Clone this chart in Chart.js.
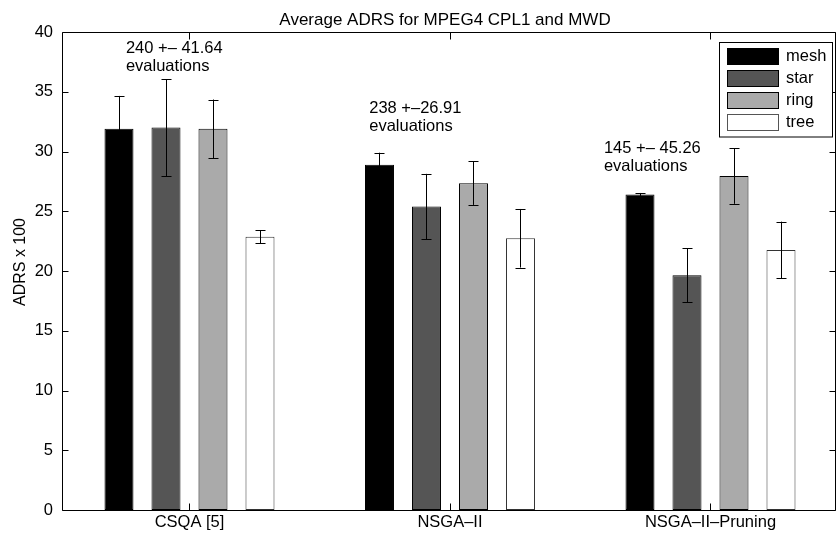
<!DOCTYPE html>
<html><head><meta charset="utf-8">
<script src="https://cdn.jsdelivr.net/npm/chart.js@4"></script>
<style>html,body{margin:0;padding:0;background:#fff}canvas{display:block}</style>
</head><body>
<canvas id="c" width="836" height="534"></canvas>
<script>
const categories = ['CSQA [5]', 'NSGA\u2013II', 'NSGA\u2013II\u2013Pruning'];
const seriesNames = ['mesh', 'star', 'ring', 'tree'];
const meshValues = [31.9, 28.9, 26.4];
const meshErrors = [2.75, 1.0, 0.13];
const starValues = [32.0, 25.4, 19.65];
const starErrors = [4.05, 2.73, 2.26];
const ringValues = [31.9, 27.35, 27.95];
const ringErrors = [2.45, 1.82, 2.33];
const treeValues = [22.87, 22.74, 21.76];
const treeErrors = [0.56, 2.45, 2.37];
const yTicks = [0, 5, 10, 15, 20, 25, 30, 35, 40];
const titleText = 'Average ADRS for MPEG4 CPL1 and MWD';
const yTitle = 'ADRS x 100';
const annotationLines = [['240 +\u2013 41.64', 'evaluations'], ['238 +\u201326.91', 'evaluations'], ['145 +\u2013 45.26', 'evaluations']];
const annotationAnchors = [{x: 0.756, y: 38.22}, {x: 1.69, y: 33.2}, {x: 2.591, y: 29.85}];

const FONT = "'Liberation Sans', Arial, Helvetica, sans-serif";
const fills = ['#000000', '#555555', '#aaaaaa', '#ffffff'];
const allValues = [meshValues, starValues, ringValues, treeValues];
const allErrors = [meshErrors, starErrors, ringErrors, treeErrors];

const datasets = seriesNames.map((name, s) => ({
  label: name,
  data: allValues[s].map((v, i) => ({x: i + 1, y: v})),
  errors: allErrors[s],
  backgroundColor: fills[s],
  borderColor: s === 3 ? '#333333' : '#000000',
  borderWidth: 1,
  borderSkipped: false,
  categoryPercentage: 0.7217,
  barPercentage: 0.617
}));

const decor = {
  id: 'decor',
  afterDatasetsDraw(chart) {
    const ctx = chart.ctx, ys = chart.scales.y;
    ctx.save();
    ctx.strokeStyle = '#000';
    ctx.lineWidth = 1;
    chart.data.datasets.forEach((ds, di) => {
      const meta = chart.getDatasetMeta(di);
      meta.data.forEach((bar, i) => {
        const v = ds.data[i].y, e = ds.errors[i];
        const x = Math.round(bar.x) + 0.5;
        const yt = ys.getPixelForValue(v + e), yb = ys.getPixelForValue(v - e);
        ctx.beginPath();
        ctx.moveTo(x, yt); ctx.lineTo(x, yb);
        ctx.moveTo(x - 5, Math.round(yt) + 0.5); ctx.lineTo(x + 5, Math.round(yt) + 0.5);
        ctx.moveTo(x - 5, Math.round(yb) + 0.5); ctx.lineTo(x + 5, Math.round(yb) + 0.5);
        ctx.stroke();
      });
    });
    ctx.restore();
  },
  afterDraw(chart) {
    const ctx = chart.ctx, a = chart.chartArea, xs = chart.scales.x, ys = chart.scales.y;
    ctx.save();
    ctx.strokeStyle = '#000';
    ctx.lineWidth = 1;
    const L = a.left + 0.5, R = a.right - 0.5, T = a.top + 0.5, B = a.bottom + 0.5;
    ctx.beginPath();
    ctx.moveTo(L, T); ctx.lineTo(R, T); ctx.lineTo(R, B); ctx.lineTo(L, B); ctx.closePath();
    ctx.stroke();
    ctx.beginPath();
    yTicks.forEach(t => {
      const y = Math.round(ys.getPixelForValue(t)) + 0.5;
      ctx.moveTo(L, y); ctx.lineTo(L + 6, y);
      ctx.moveTo(R, y); ctx.lineTo(R - 6, y);
    });
    categories.forEach((c, i) => {
      const x = Math.round(xs.getPixelForValue(i + 1)) + 0.5;
      ctx.moveTo(x, B); ctx.lineTo(x, B - 7);
      ctx.moveTo(x, T); ctx.lineTo(x, T + 7);
    });
    ctx.stroke();

    ctx.fillStyle = '#000';
    ctx.font = '17px ' + FONT;
    ctx.textAlign = 'center';
    ctx.textBaseline = 'alphabetic';
    ctx.fillText(titleText, 445, 25);

    ctx.save();
    ctx.translate(25, 262);
    ctx.rotate(-Math.PI / 2);
    ctx.font = '16px ' + FONT;
    ctx.fillText(yTitle, 0, 0);
    ctx.restore();

    ctx.font = '16.5px ' + FONT;
    ctx.textAlign = 'left';
    annotationLines.forEach((lines, i) => {
      const x = xs.getPixelForValue(annotationAnchors[i].x);
      const y = ys.getPixelForValue(annotationAnchors[i].y);
      lines.forEach((t, k) => ctx.fillText(t, x, y + k * 17.4));
    });

    // legend
    ctx.fillStyle = '#fff';
    ctx.fillRect(719.5, 42.5, 113, 94.5);
    ctx.strokeRect(719.5, 42.5, 113, 94.5);
    seriesNames.forEach((n, i) => {
      const ry = 48.5 + i * 22;
      ctx.fillStyle = fills[i];
      ctx.fillRect(727.5, ry, 51, 16);
      ctx.strokeStyle = i === 3 ? '#555' : '#000';
      ctx.strokeRect(727.5, ry, 51, 16);
      ctx.fillStyle = '#000';
      ctx.textBaseline = 'middle';
      ctx.fillText(n, 786, ry + 8);
    });
    ctx.restore();
  }
};

new Chart(document.getElementById('c'), {
  type: 'bar',
  data: { datasets },
  plugins: [decor],
  options: {
    responsive: false,
    animation: false,
    devicePixelRatio: 1,
    layout: { padding: { top: 32, left: 0, right: 0, bottom: 0 } },
    plugins: { legend: { display: false }, tooltip: { enabled: false }, title: { display: false } },
    scales: {
      x: {
        type: 'linear',
        min: 0.5106,
        max: 3.4818,
        offset: false,
        grid: { display: false, drawTicks: false },
        border: { display: false },
        afterBuildTicks: s => { s.ticks = categories.map((c, i) => ({ value: i + 1 })); },
        afterFit: s => { s.height = 24; },
        ticks: {
          autoSkip: false,
          maxRotation: 0,
          padding: 3,
          color: '#000',
          font: { family: FONT, size: 16.5 },
          callback: v => categories[Math.round(v) - 1]
        }
      },
      y: {
        min: 0,
        max: 40,
        grid: { display: false, drawTicks: false },
        border: { display: false },
        afterBuildTicks: s => { s.ticks = yTicks.map(v => ({ value: v })); },
        afterFit: s => { s.width = 62; },
        ticks: { padding: 9, color: '#000', font: { family: FONT, size: 16.5 } }
      }
    }
  }
});
</script>
</body></html>
